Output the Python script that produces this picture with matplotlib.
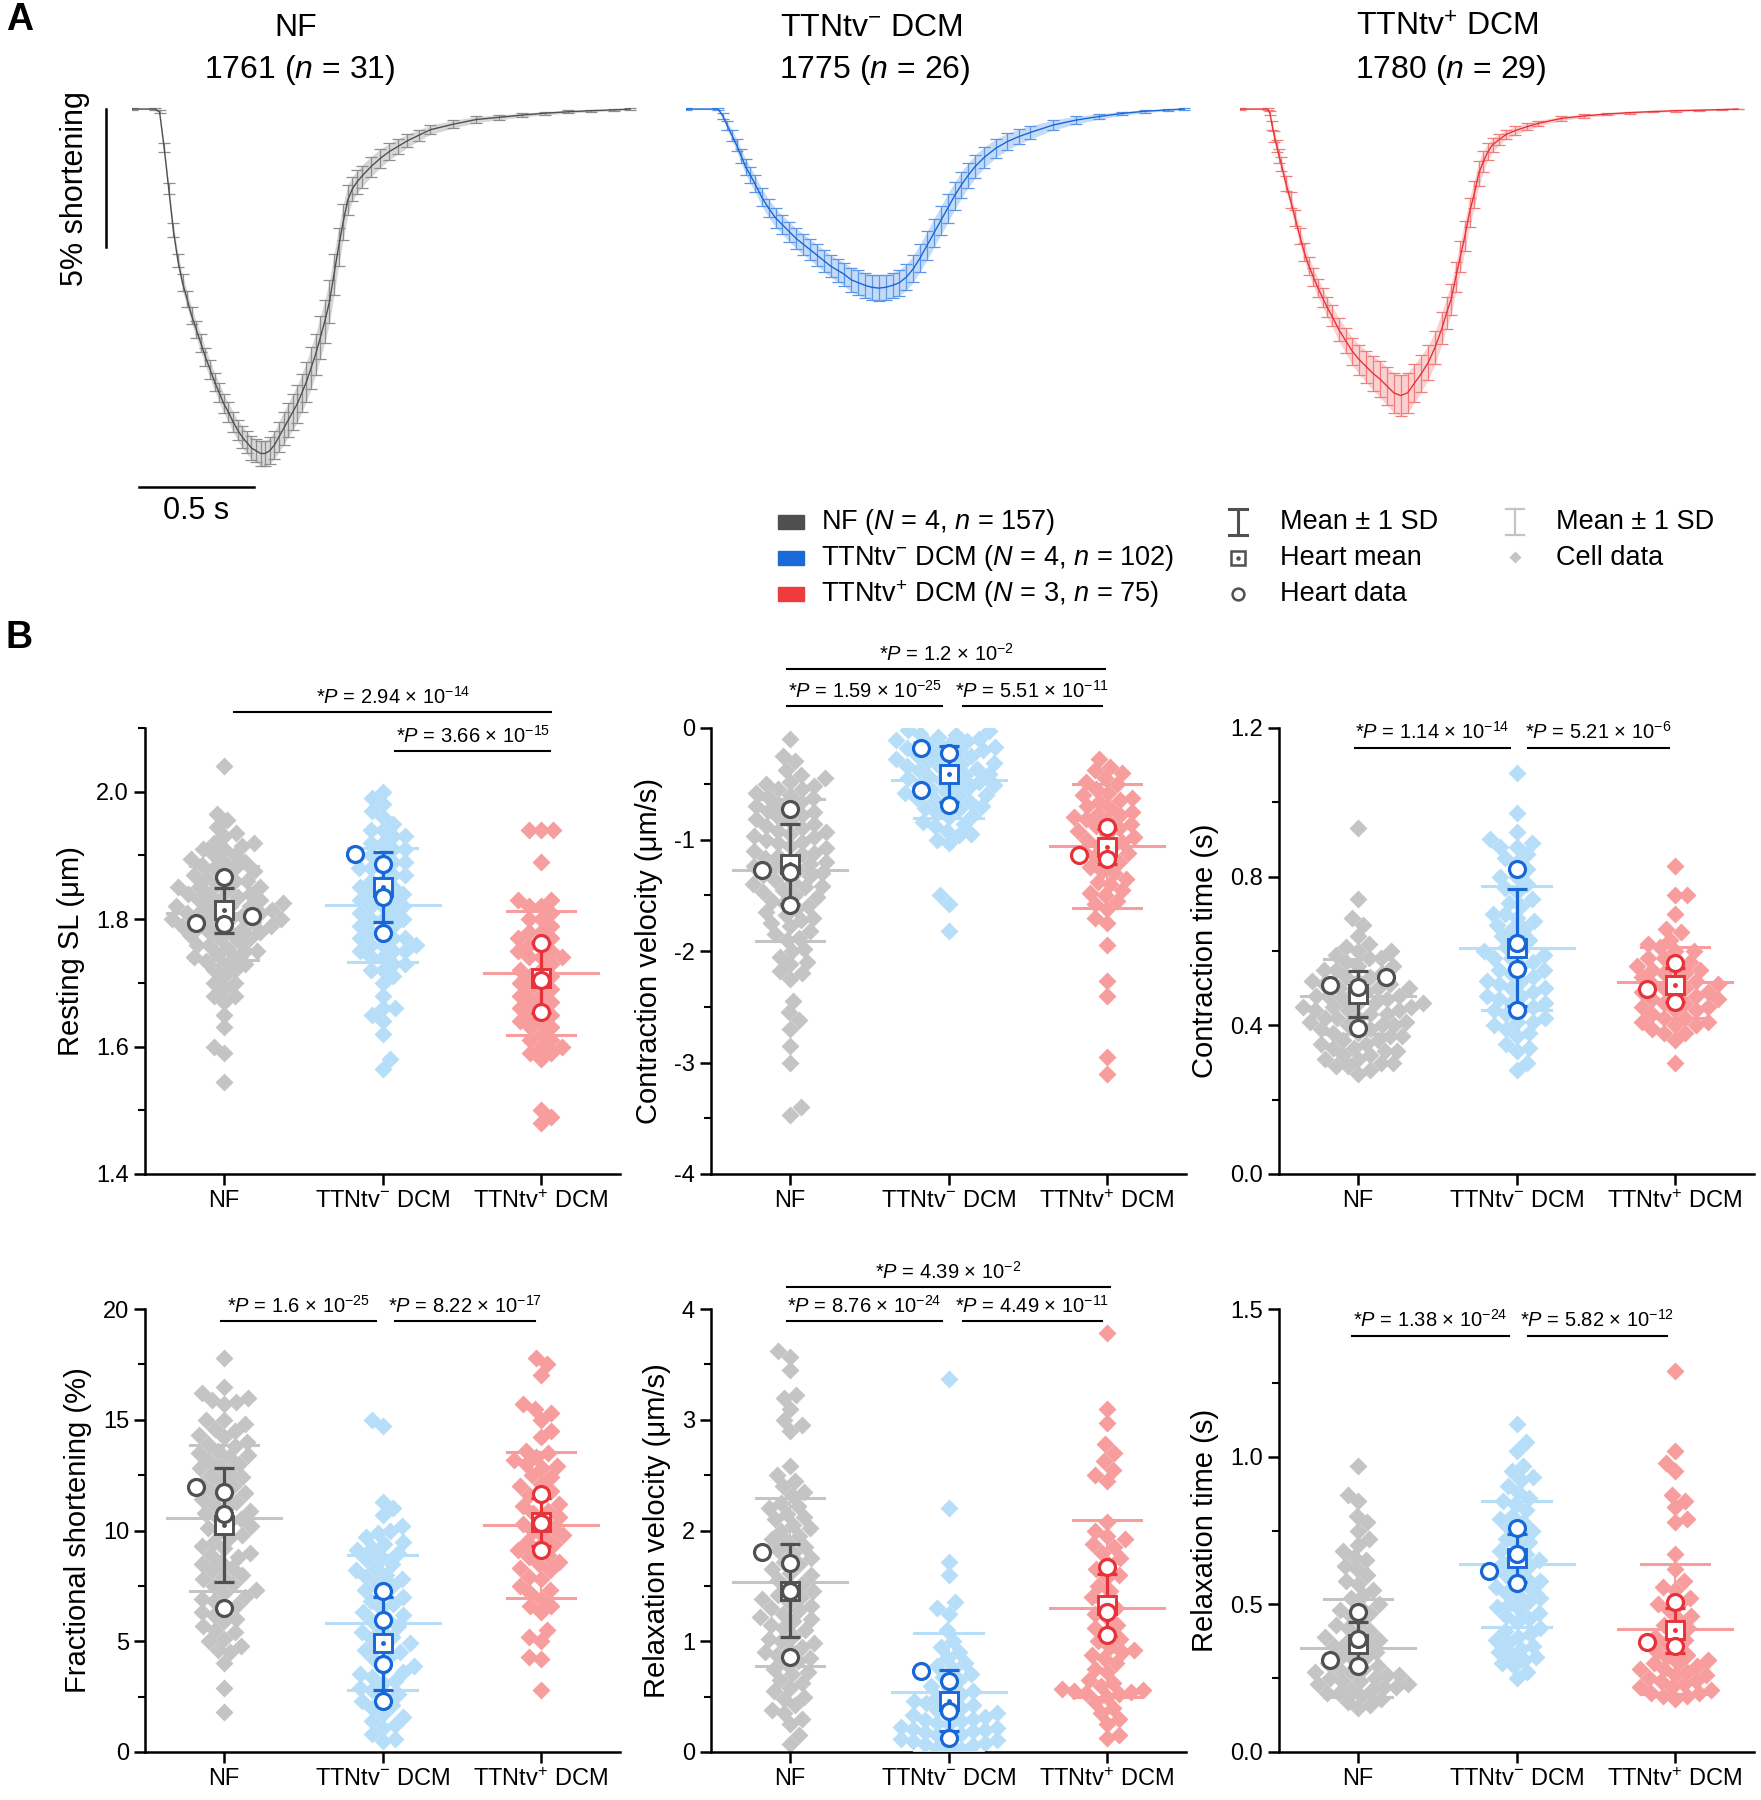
import numpy as np
import matplotlib
matplotlib.use('Agg')
import matplotlib.pyplot as plt
from matplotlib.ticker import MultipleLocator, FormatStrFormatter
from matplotlib.patches import Rectangle

plt.rcParams['font.family'] = ['Liberation Sans', 'DejaVu Sans']
plt.rcParams['mathtext.fontset'] = 'custom'
plt.rcParams['mathtext.rm'] = 'Liberation Sans'
plt.rcParams['mathtext.it'] = 'Liberation Sans:italic'
plt.rcParams['mathtext.bf'] = 'Liberation Sans:bold'

# ---------------- data: panel A traces (% shortening vs time, s)
t_nf = [0, 0.10, 0.12, 0.14, 0.16, 0.18, 0.20, 0.22, 0.24, 0.26, 0.28, 0.30, 0.32, 0.34, 0.36, 0.38,
        0.40, 0.42, 0.44, 0.46, 0.48, 0.50, 0.52, 0.54, 0.56, 0.58, 0.60, 0.62, 0.64, 0.66, 0.68, 0.70,
        0.72, 0.74, 0.76, 0.78, 0.80, 0.82, 0.84, 0.86, 0.88, 0.90, 0.92, 0.94, 0.96, 0.98, 1.00, 1.04,
        1.08, 1.12, 1.16, 1.20, 1.25, 1.30, 1.40, 1.50, 1.60, 1.70, 1.80, 1.90, 2.00, 2.10, 2.17]
m_nf = [0, 0, 0.1, 1.4, 2.9, 4.4, 5.5, 6.3, 6.9, 7.5, 8.0, 8.5, 9.0, 9.45, 9.9, 10.3,
        10.7, 11.0, 11.35, 11.65, 11.9, 12.1, 12.3, 12.4, 12.5, 12.5, 12.4, 12.2, 11.9, 11.6, 11.3, 11.0,
        10.7, 10.3, 9.9, 9.4, 8.9, 8.3, 7.7, 7.0, 6.0, 5.0, 4.1, 3.3, 2.9, 2.65, 2.45, 2.1,
        1.8, 1.55, 1.35, 1.15, 0.95, 0.75, 0.55, 0.38, 0.3, 0.22, 0.15, 0.1, 0.06, 0.03, 0.0]
sd_nf = [0.02, 0.02, 0.05, 0.15, 0.2, 0.25, 0.25, 0.3, 0.3, 0.3, 0.3, 0.32, 0.32, 0.33, 0.33, 0.35,
         0.35, 0.35, 0.37, 0.38, 0.4, 0.4, 0.42, 0.42, 0.45, 0.45, 0.48, 0.5, 0.55, 0.6, 0.62, 0.65,
         0.68, 0.7, 0.72, 0.75, 0.75, 0.78, 0.78, 0.78, 0.75, 0.7, 0.65, 0.55, 0.45, 0.42, 0.4, 0.37,
         0.34, 0.3, 0.27, 0.24, 0.2, 0.17, 0.14, 0.11, 0.09, 0.07, 0.06, 0.05, 0.04, 0.03, 0.02]

t_neg = [0, 0.14, 0.16, 0.18, 0.20, 0.22, 0.24, 0.26, 0.28, 0.30, 0.33, 0.36, 0.39, 0.42, 0.45, 0.48,
         0.51, 0.54, 0.57, 0.60, 0.63, 0.66, 0.69, 0.72, 0.75, 0.78, 0.81, 0.84, 0.87, 0.90, 0.93, 0.96,
         0.99, 1.02, 1.05, 1.08, 1.11, 1.14, 1.17, 1.20, 1.23, 1.26, 1.30, 1.35, 1.40, 1.45, 1.50, 1.60,
         1.70, 1.80, 1.90, 2.00, 2.10, 2.17]
m_neg = [0, 0, 0.25, 0.6, 0.95, 1.3, 1.7, 2.1, 2.4, 2.7, 3.2, 3.6, 3.95, 4.2, 4.45, 4.7,
         4.9, 5.1, 5.3, 5.5, 5.7, 5.85, 6.0, 6.2, 6.3, 6.4, 6.47, 6.5, 6.47, 6.4, 6.3, 6.1,
         5.8, 5.4, 4.95, 4.5, 4.05, 3.6, 3.15, 2.75, 2.4, 2.08, 1.75, 1.42, 1.18, 1.0, 0.85, 0.58,
         0.4, 0.27, 0.16, 0.08, 0.03, 0.0]
sd_neg = [0.02, 0.03, 0.1, 0.15, 0.2, 0.22, 0.25, 0.28, 0.3, 0.3, 0.32, 0.33, 0.35, 0.35, 0.36, 0.37,
          0.38, 0.38, 0.39, 0.4, 0.4, 0.42, 0.43, 0.44, 0.45, 0.46, 0.46, 0.46, 0.46, 0.46, 0.47, 0.48,
          0.49, 0.5, 0.52, 0.52, 0.52, 0.52, 0.5, 0.48, 0.45, 0.42, 0.38, 0.34, 0.3, 0.27, 0.24, 0.18,
          0.14, 0.1, 0.07, 0.05, 0.03, 0.02]

t_pos = [0, 0.12, 0.13, 0.14, 0.15, 0.16, 0.17, 0.18, 0.20, 0.22, 0.24, 0.26, 0.28, 0.30, 0.32, 0.34,
         0.36, 0.38, 0.40, 0.43, 0.46, 0.49, 0.52, 0.55, 0.58, 0.61, 0.64, 0.67, 0.70, 0.73, 0.76, 0.79,
         0.82, 0.85, 0.88, 0.90, 0.92, 0.94, 0.96, 0.98, 1.00, 1.02, 1.04, 1.06, 1.08, 1.10, 1.13, 1.16,
         1.20, 1.25, 1.30, 1.40, 1.50, 1.60, 1.70, 1.80, 1.90, 2.00, 2.10, 2.17]
m_pos = [0, 0, 0.15, 0.6, 1.0, 1.35, 1.7, 2.0, 2.7, 3.3, 3.95, 4.6, 5.2, 5.7, 6.1, 6.5,
         6.85, 7.2, 7.5, 8.0, 8.4, 8.8, 9.1, 9.35, 9.6, 9.8, 10.05, 10.3, 10.4, 10.3, 9.95, 9.6,
         9.2, 8.65, 7.95, 7.4, 6.9, 6.1, 5.35, 4.6, 3.75, 3.1, 2.35, 1.9, 1.55, 1.3, 1.1, 0.92,
         0.78, 0.64, 0.52, 0.34, 0.25, 0.18, 0.13, 0.09, 0.06, 0.04, 0.02, 0.0]
sd_pos = [0.02, 0.02, 0.08, 0.15, 0.2, 0.22, 0.25, 0.25, 0.28, 0.3, 0.3, 0.3, 0.32, 0.32, 0.33, 0.34,
          0.35, 0.36, 0.38, 0.42, 0.45, 0.5, 0.55, 0.58, 0.62, 0.66, 0.7, 0.72, 0.73, 0.72, 0.7, 0.66,
          0.62, 0.6, 0.58, 0.57, 0.56, 0.55, 0.55, 0.55, 0.53, 0.5, 0.45, 0.38, 0.3, 0.25, 0.2, 0.17,
          0.15, 0.13, 0.1, 0.08, 0.06, 0.05, 0.04, 0.03, 0.03, 0.02, 0.02, 0.01]

trace_titles = ['NF', 'TTNtv$^{-}$ DCM', 'TTNtv$^{+}$ DCM']
trace_ids = ['1761', '1775', '1780']
trace_n = [31, 26, 29]

# ---------------- data: panel B
groups = ['NF', 'TTNtv$^{-}$ DCM', 'TTNtv$^{+}$ DCM']
legend_N = [4, 4, 3]
legend_n = [157, 102, 75]

# resting sarcomere length (um)
rsl_nf = [2.04, 1.965, 1.955, 1.945, 1.935, 1.93, 1.92, 1.915, 1.91, 1.90, 1.895, 1.89, 1.885, 1.88, 1.875,
          1.87, 1.865, 1.86, 1.855, 1.85, 1.845, 1.84, 1.835, 1.83, 1.83, 1.825, 1.82, 1.82, 1.815, 1.81,
          1.81, 1.805, 1.80, 1.80, 1.795, 1.79, 1.79, 1.785, 1.78, 1.775, 1.77, 1.765, 1.76, 1.755, 1.75,
          1.745, 1.74, 1.735, 1.73, 1.72, 1.71, 1.70, 1.69, 1.68, 1.67, 1.65, 1.63, 1.60, 1.59, 1.545,
          1.92, 1.91, 1.90, 1.89, 1.88, 1.87, 1.86, 1.85, 1.85, 1.84, 1.84, 1.83, 1.82, 1.82, 1.81,
          1.81, 1.80, 1.80, 1.79, 1.79, 1.78, 1.78, 1.77, 1.76, 1.75, 1.74, 1.73, 1.72, 1.70, 1.68]
rsl_neg = [2.00, 1.99, 1.98, 1.97, 1.96, 1.95, 1.94, 1.93, 1.93, 1.92, 1.91, 1.90, 1.90, 1.89, 1.88, 1.88,
           1.87, 1.86, 1.85, 1.84, 1.84, 1.83, 1.82, 1.82, 1.81, 1.80, 1.80, 1.79, 1.78, 1.77, 1.77, 1.76,
           1.75, 1.75, 1.74, 1.73, 1.72, 1.70, 1.68, 1.66, 1.65, 1.64, 1.62, 1.58, 1.565,
           1.94, 1.92, 1.91, 1.90, 1.89, 1.88, 1.87, 1.86, 1.85, 1.84, 1.83, 1.82, 1.81, 1.80, 1.79,
           1.78, 1.77, 1.76, 1.76, 1.75, 1.74, 1.73, 1.72, 1.71, 1.66]
rsl_pos = [1.94, 1.94, 1.94, 1.89, 1.83, 1.83, 1.82, 1.81, 1.80, 1.79, 1.78, 1.77, 1.76, 1.75, 1.74, 1.74,
           1.73, 1.72, 1.71, 1.70, 1.69, 1.68, 1.67, 1.66, 1.66, 1.65, 1.64, 1.63, 1.62, 1.61, 1.60, 1.59,
           1.59, 1.58, 1.50, 1.49, 1.48,
           1.82, 1.80, 1.78, 1.77, 1.76, 1.75, 1.74, 1.72, 1.71, 1.70, 1.69, 1.68, 1.67, 1.65, 1.64,
           1.63, 1.61, 1.60]
rsl_cell_mean = [1.810, 1.822, 1.715]
rsl_cell_sd = [0.074, 0.089, 0.097]
rsl_heart_mean = [1.814, 1.851, 1.707]
rsl_heart_sd = [0.035, 0.055, 0.055]
rsl_hearts = [[1.794, 1.793, 1.805, 1.866], [1.887, 1.903, 1.834, 1.779], [1.763, 1.704, 1.654]]

# contraction velocity (um/s)
cv_nf = [-0.10, -0.25, -0.30, -0.38, -0.42, -0.48, -0.50, -0.52, -0.55, -0.58, -0.60, -0.63, -0.66, -0.70,
         -0.72, -0.75, -0.78, -0.80, -0.83, -0.86, -0.90, -0.92, -0.95, -0.98, -1.00, -1.03, -1.06, -1.10,
         -1.12, -1.15, -1.18, -1.20, -1.24, -1.27, -1.30, -1.33, -1.36, -1.40, -1.43, -1.47, -1.52, -1.57,
         -1.62, -1.68, -1.72, -1.78, -1.85, -1.90, -1.98, -2.05, -2.12, -2.18, -2.25, -2.45, -2.55, -2.62,
         -2.70, -2.85, -3.00, -3.40, -3.47,
         -0.45, -0.55, -0.62, -0.68, -0.74, -0.82, -0.88, -0.93, -0.97, -1.02, -1.08, -1.13, -1.17, -1.22,
         -1.25, -1.29, -1.32, -1.38, -1.42, -1.45, -1.50, -1.55, -1.60, -1.65, -1.70, -1.75, -1.82, -1.88,
         -2.00, -2.10, -2.20]
cv_neg = [-0.02, -0.03, -0.05, -0.08, -0.10, -0.12, -0.15, -0.17, -0.20, -0.22, -0.25, -0.28, -0.30, -0.32,
          -0.35, -0.38, -0.40, -0.42, -0.45, -0.48, -0.50, -0.52, -0.55, -0.58, -0.60, -0.63, -0.66, -0.70,
          -0.73, -0.76, -0.80, -0.84, -0.88, -0.92, -0.96, -1.00, -1.50, -1.58, -1.82,
          -0.06, -0.11, -0.14, -0.18, -0.21, -0.24, -0.27, -0.31, -0.34, -0.37, -0.41, -0.44, -0.47, -0.51,
          -0.54, -0.57, -0.61, -0.65, -0.68, -0.72, -0.78, -0.86, -0.95, -1.03]
cv_pos = [-0.28, -0.35, -0.40, -0.45, -0.50, -0.55, -0.60, -0.63, -0.66, -0.70, -0.75, -0.78, -0.80, -0.83,
          -0.86, -0.90, -0.95, -1.00, -1.05, -1.10, -1.15, -1.20, -1.25, -1.30, -1.35, -1.40, -1.45, -1.50,
          -1.55, -1.62, -1.70, -1.75, -1.95, -2.27, -2.40, -2.95, -3.10,
          -0.38, -0.48, -0.58, -0.65, -0.72, -0.77, -0.82, -0.88, -0.92, -0.98, -1.02, -1.08, -1.12, -1.18,
          -1.28, -1.38, -1.48, -1.58]
cv_cell_mean = [-1.273, -0.47, -1.055]
cv_cell_sd = [0.638, 0.34, 0.556]
cv_heart_mean = [-1.22, -0.413, -1.066]
cv_heart_sd = [0.36, 0.25, 0.157]
cv_hearts = [[-0.727, -1.29, -1.273, -1.586], [-0.178, -0.228, -0.553, -0.692], [-1.141, -1.176, -0.891]]

# contraction time (s)
ct_nf = [0.93, 0.74, 0.69, 0.67, 0.64, 0.62, 0.61, 0.60, 0.59, 0.58, 0.57, 0.56, 0.55, 0.54, 0.53, 0.52,
         0.51, 0.50, 0.50, 0.49, 0.48, 0.48, 0.47, 0.46, 0.46, 0.45, 0.44, 0.44, 0.43, 0.42, 0.42, 0.41,
         0.40, 0.40, 0.39, 0.38, 0.37, 0.36, 0.35, 0.34, 0.33, 0.32, 0.31, 0.30, 0.29, 0.28, 0.27,
         0.60, 0.58, 0.56, 0.55, 0.53, 0.52, 0.51, 0.50, 0.49, 0.48, 0.47, 0.46, 0.45, 0.45, 0.44,
         0.43, 0.42, 0.41, 0.40, 0.39, 0.38, 0.37, 0.36, 0.35, 0.34, 0.33, 0.32, 0.31, 0.30, 0.29]
ct_neg = [1.08, 0.97, 0.92, 0.90, 0.89, 0.88, 0.86, 0.84, 0.82, 0.80, 0.78, 0.76, 0.74, 0.72, 0.70, 0.69,
          0.67, 0.66, 0.64, 0.63, 0.61, 0.60, 0.59, 0.58, 0.56, 0.55, 0.54, 0.52, 0.51, 0.50, 0.49, 0.48,
          0.47, 0.46, 0.45, 0.44, 0.42, 0.41, 0.40, 0.38, 0.35, 0.33, 0.30, 0.28,
          0.88, 0.85, 0.80, 0.77, 0.73, 0.70, 0.68, 0.66, 0.63, 0.60, 0.58, 0.57, 0.55, 0.53, 0.52,
          0.50, 0.48, 0.46, 0.44, 0.43, 0.41, 0.39, 0.37, 0.34]
ct_pos = [0.83, 0.75, 0.75, 0.70, 0.66, 0.65, 0.63, 0.61, 0.60, 0.58, 0.57, 0.56, 0.55, 0.54, 0.53, 0.52,
          0.51, 0.50, 0.50, 0.49, 0.48, 0.47, 0.46, 0.45, 0.44, 0.43, 0.42, 0.41, 0.40, 0.39, 0.38, 0.36, 0.30,
          0.62, 0.60, 0.58, 0.56, 0.55, 0.54, 0.52, 0.51, 0.49, 0.48, 0.47, 0.46, 0.45, 0.44, 0.42,
          0.41, 0.40, 0.38]
ct_cell_mean = [0.478, 0.607, 0.516]
ct_cell_sd = [0.10, 0.167, 0.096]
ct_heart_mean = [0.484, 0.609, 0.509]
ct_heart_sd = [0.062, 0.157, 0.045]
ct_hearts = [[0.530, 0.504, 0.509, 0.393], [0.820, 0.622, 0.551, 0.441], [0.497, 0.567, 0.464]]

# fractional shortening (%)
fs_nf = [17.8, 16.5, 16.2, 16.0, 15.8, 15.7, 15.0, 14.8, 14.5, 14.3, 14.0, 13.8, 13.6, 13.4, 13.2, 13.0,
         12.8, 12.6, 12.4, 12.2, 12.0, 11.8, 11.6, 11.4, 11.2, 11.0, 10.8, 10.6, 10.4, 10.2, 10.0, 9.8,
         9.5, 9.2, 9.0, 8.8, 8.5, 8.2, 8.0, 7.8, 7.5, 7.2, 7.0, 6.8, 6.5, 6.2, 6.0, 5.7, 5.4, 5.0, 4.8,
         4.5, 4.0, 2.9, 1.8,
         15.9, 15.0, 14.6, 14.2, 13.9, 13.5, 13.3, 12.9, 12.5, 12.1, 11.7, 11.3, 10.9, 10.5, 10.1, 9.7,
         9.3, 8.9, 8.6, 8.3, 7.9, 7.6, 7.3, 6.9, 6.6, 6.3, 5.9, 5.5, 5.1, 4.6]
fs_neg = [15.0, 14.7, 11.3, 11.0, 10.7, 10.2, 9.9, 9.7, 9.4, 9.2, 9.0, 8.8, 8.5, 8.2, 8.0, 7.8, 7.6, 7.3,
          7.0, 6.8, 6.5, 6.2, 6.0, 5.7, 5.4, 5.1, 4.8, 4.5, 4.2, 3.9, 3.6, 3.4, 3.1, 2.8, 2.6, 2.3, 2.0,
          1.7, 1.4, 1.1, 0.8, 0.6, 0.5,
          10.0, 9.5, 9.1, 8.7, 8.3, 7.9, 7.5, 7.1, 6.7, 6.3, 5.9, 5.5, 5.2, 4.9, 4.6, 4.3, 3.8, 3.5,
          3.2, 2.9, 2.5, 2.1, 1.6, 1.2]
fs_pos = [17.8, 17.5, 17.0, 15.7, 15.5, 15.3, 15.0, 14.5, 14.2, 13.6, 13.3, 13.0, 12.8, 12.4, 12.1, 11.8,
          11.5, 11.2, 10.9, 10.6, 10.3, 10.0, 9.7, 9.4, 9.1, 8.8, 8.5, 8.2, 7.9, 7.5, 7.2, 6.9, 6.6, 6.3,
          5.5, 5.2, 5.0, 4.3, 4.2, 2.8,
          13.5, 13.2, 12.9, 12.5, 12.0, 11.6, 11.1, 10.8, 10.4, 10.1, 9.8, 9.5, 9.2, 8.9, 8.6, 8.3, 7.8,
          7.3, 6.6]
fs_cell_mean = [10.57, 5.83, 10.25]
fs_cell_sd = [3.3, 3.05, 3.3]
fs_heart_mean = [10.26, 4.90, 10.38]
fs_heart_sd = [2.57, 2.1, 1.1]
fs_hearts = [[10.73, 11.96, 11.73, 6.51], [7.27, 5.98, 3.98, 2.32], [11.63, 10.33, 9.12]]

# relaxation velocity (um/s)
rv_nf = [3.62, 3.57, 3.45, 3.22, 3.20, 3.10, 3.00, 2.95, 2.90, 2.58, 2.50, 2.45, 2.40, 2.32, 2.25, 2.20,
         2.15, 2.10, 2.05, 2.00, 1.95, 1.90, 1.85, 1.80, 1.75, 1.70, 1.65, 1.60, 1.55, 1.50, 1.45, 1.40,
         1.35, 1.30, 1.25, 1.20, 1.15, 1.10, 1.05, 1.00, 0.95, 0.90, 0.85, 0.80, 0.75, 0.70, 0.62, 0.55,
         0.48, 0.42, 0.35, 0.25, 0.15, 0.07,
         2.35, 2.22, 2.12, 2.02, 1.92, 1.82, 1.72, 1.62, 1.52, 1.42, 1.38, 1.32, 1.28, 1.22, 1.18, 1.12,
         1.02, 0.98, 0.92, 0.88, 0.82, 0.72, 0.65, 0.58, 0.50, 0.38, 0.30]
rv_neg = [3.37, 2.20, 1.72, 1.60, 1.35, 1.30, 1.25, 1.10, 1.00, 0.90, 0.85, 0.80, 0.75, 0.70, 0.65, 0.60,
          0.55, 0.50, 0.47, 0.44, 0.40, 0.38, 0.35, 0.32, 0.30, 0.28, 0.25, 0.22, 0.20, 0.18, 0.16, 0.14,
          0.12, 0.10, 0.08, 0.06, 0.04, 0.02,
          0.95, 0.78, 0.68, 0.58, 0.52, 0.46, 0.42, 0.36, 0.33, 0.29, 0.26, 0.23, 0.21, 0.19, 0.15, 0.11,
          0.07, 0.03]
rv_pos = [3.78, 3.10, 2.97, 2.78, 2.70, 2.63, 2.55, 2.50, 2.45, 2.08, 2.00, 1.92, 1.88, 1.85, 1.75, 1.65,
          1.58, 1.50, 1.40, 1.30, 1.22, 1.15, 1.08, 1.00, 0.95, 0.90, 0.85, 0.80, 0.72, 0.65, 0.60, 0.57,
          0.55, 0.53, 0.50, 0.45, 0.35, 0.25, 0.15, 0.13,
          1.95, 1.80, 1.70, 1.60, 1.45, 1.35, 1.25, 1.12, 1.02, 0.92, 0.88, 0.75, 0.62, 0.56, 0.54, 0.52,
          0.40, 0.30]
rv_cell_mean = [1.534, 0.538, 1.296]
rv_cell_sd = [0.755, 0.538, 0.797]
rv_heart_mean = [1.457, 0.464, 1.33]
rv_heart_sd = [0.418, 0.275, 0.28]
rv_hearts = [[1.705, 1.808, 1.453, 0.857], [0.638, 0.732, 0.367, 0.126], [1.673, 1.26, 1.054]]

# relaxation time (s)
rt_nf = [0.97, 0.87, 0.85, 0.80, 0.78, 0.75, 0.72, 0.70, 0.68, 0.65, 0.62, 0.60, 0.58, 0.55, 0.52, 0.50,
         0.48, 0.46, 0.44, 0.42, 0.40, 0.38, 0.37, 0.36, 0.35, 0.34, 0.33, 0.32, 0.31, 0.30, 0.29, 0.28,
         0.28, 0.27, 0.27, 0.26, 0.26, 0.25, 0.25, 0.24, 0.24, 0.23, 0.23, 0.22, 0.22, 0.21, 0.21, 0.20,
         0.20, 0.19, 0.18, 0.17, 0.16, 0.15,
         0.66, 0.63, 0.57, 0.53, 0.49, 0.47, 0.43, 0.41, 0.39, 0.37]
rt_neg = [1.11, 1.05, 1.02, 0.97, 0.95, 0.93, 0.90, 0.88, 0.86, 0.84, 0.82, 0.80, 0.78, 0.76, 0.74, 0.72,
          0.70, 0.68, 0.66, 0.65, 0.64, 0.62, 0.60, 0.58, 0.56, 0.54, 0.52, 0.50, 0.48, 0.46, 0.44, 0.42,
          0.40, 0.38, 0.36, 0.35, 0.33, 0.31, 0.29, 0.27, 0.25,
          0.92, 0.85, 0.79, 0.75, 0.71, 0.67, 0.63, 0.61, 0.59, 0.57, 0.55, 0.53, 0.51, 0.49, 0.47, 0.45,
          0.41, 0.39, 0.37, 0.34, 0.32, 0.30]
rt_pos = [1.29, 1.02, 0.98, 0.95, 0.87, 0.85, 0.83, 0.79, 0.78, 0.67, 0.62, 0.58, 0.55, 0.52, 0.50, 0.48,
          0.45, 0.43, 0.41, 0.39, 0.37, 0.35, 0.33, 0.31, 0.30, 0.29, 0.28, 0.27, 0.26, 0.25, 0.24, 0.23,
          0.22, 0.21, 0.20, 0.19, 0.18,
          0.56, 0.50, 0.46, 0.42, 0.38, 0.34, 0.32, 0.30, 0.28, 0.26, 0.24, 0.22, 0.20, 0.19]
rt_cell_mean = [0.352, 0.636, 0.418]
rt_cell_sd = [0.167, 0.213, 0.22]
rt_heart_mean = [0.364, 0.657, 0.412]
rt_heart_sd = [0.077, 0.08, 0.076]
rt_hearts = [[0.473, 0.383, 0.313, 0.292], [0.759, 0.671, 0.612, 0.572], [0.508, 0.371, 0.359]]

# P values: (group a, group b, mantissa, exponent)
rsl_p = [(0, 2, '2.94', '-14'), (1, 2, '3.66', '-15')]
cv_p = [(0, 2, '1.2', '-2'), (0, 1, '1.59', '-25'), (1, 2, '5.51', '-11')]
ct_p = [(0, 1, '1.14', '-14'), (1, 2, '5.21', '-6')]
fs_p = [(0, 1, '1.6', '-25'), (1, 2, '8.22', '-17')]
rv_p = [(0, 2, '4.39', '-2'), (0, 1, '8.76', '-24'), (1, 2, '4.49', '-11')]
rt_p = [(0, 1, '1.38', '-24'), (1, 2, '5.82', '-12')]

# ---------------- style
dark = ['#505050', '#1767d8', '#e8323a']
mid = ['#8e8e8e', '#5a97e8', '#f27c7c']
light = ['#c4c4c4', '#b6def9', '#f79d9d']
legend_col = ['#4f4f4f', '#1a6ad9', '#ee3c3c']

W, H = 1761, 1800
fig = plt.figure(figsize=(W / 100, H / 100), dpi=100)


def box(x0, y0, x1, y1):
    return [x0 / W, 1 - y1 / H, (x1 - x0) / W, (y1 - y0) / H]


ov = fig.add_axes([0, 0, 1, 1])
ov.set_xlim(0, W)
ov.set_ylim(H, 0)
ov.axis('off')

ov.text(6, 2, 'A', fontsize=27, fontweight='bold', va='top', ha='left')
ov.text(6, 620, 'B', fontsize=27, fontweight='bold', va='top', ha='left')

# ---------------- panel A
traces = [(t_nf, m_nf, sd_nf), (t_neg, m_neg, sd_neg), (t_pos, m_pos, sd_pos)]
tr_left = [132, 686, 1240]
tr_title_x = [296, 871, 1447]
for k, (t, m, s) in enumerate(traces):
    ax = fig.add_axes(box(tr_left[k], 92.5, tr_left[k] + 505, 481))
    m_arr, s_arr = np.array(m), np.array(s)
    ax.fill_between(t, m_arr - s_arr, m_arr + s_arr, color=mid[k], alpha=0.35, lw=0)
    ax.errorbar(t, m, yerr=s, color=dark[k], lw=1.0, ecolor=mid[k], elinewidth=0.9,
                capsize=4.5, capthick=0.9)
    ax.set_xlim(0, 2.2)
    ax.set_ylim(13.5, -0.6)
    ax.axis('off')
    ov.text(tr_title_x[k], 28, trace_titles[k], fontsize=23, ha='center', va='center')
    ov.text(tr_title_x[k] + 4, 70, trace_ids[k] + r' ($\mathit{n}$ = %d)' % trace_n[k],
            fontsize=23, ha='center', va='center')
    if k == 0:
        ax.plot([-0.115, -0.115], [0, 5], color='black', lw=1.8, clip_on=False)
        ax.plot([0.03, 0.53], [13.7, 13.7], color='black', lw=1.8, clip_on=False)
        ax.text(-0.25, 2.9, '5% shortening', rotation=90, fontsize=22, ha='center', va='center')
        ax.text(0.28, 14.6, '0.5 s', fontsize=22, ha='center', va='center')

# legend block
rows_y = [522, 558, 594]
for i in range(3):
    ov.add_patch(Rectangle((778, rows_y[i] - 7), 26, 14, color=legend_col[i]))
    ov.text(821, rows_y[i], groups[i] + r' ($\mathit{N}$ = %d, $\mathit{n}$ = %d)' % (legend_N[i], legend_n[i]),
            fontsize=19.5, va='center', ha='left')
ov.plot([1238, 1238], [509, 535], color=dark[0], lw=2.2)
ov.plot([1229, 1247], [509, 509], color=dark[0], lw=2.2)
ov.plot([1229, 1247], [535, 535], color=dark[0], lw=2.2)
ov.plot(1238, 558, 's', ms=10, mfc='white', mec=dark[0], mew=1.8)
ov.plot(1238, 558, 'o', ms=2.2, color=dark[0])
ov.plot(1238, 594, 'o', ms=8.5, mfc='white', mec=dark[0], mew=1.8)
ov.text(1280, 522, 'Mean ± 1 SD', fontsize=19.5, va='center')
ov.text(1280, 558, 'Heart mean', fontsize=19.5, va='center')
ov.text(1280, 594, 'Heart data', fontsize=19.5, va='center')
ov.plot([1515, 1515], [509, 535], color=light[0], lw=1.6)
ov.plot([1506, 1524], [509, 509], color=light[0], lw=1.6)
ov.plot([1506, 1524], [535, 535], color=light[0], lw=1.6)
ov.plot(1515, 557, 'D', ms=6, color=light[0], mec='none')
ov.text(1556, 522, 'Mean ± 1 SD', fontsize=19.5, va='center')
ov.text(1556, 558, 'Cell data', fontsize=19.5, va='center')

# ---------------- panel B
AX_W = 475
PX_X = AX_W / 3.0


def swarm_px(vals, ppu_y, d, step, alternate=True):
    vals = np.asarray(vals, float)
    order = np.argsort(vals, kind='stable')
    xs, ys = [], []
    off = np.zeros(len(vals))
    for n, i in enumerate(order):
        y = vals[i] * ppu_y
        k = 0
        hit = None
        while hit is None:
            if k == 0:
                cands = [0.0]
            elif alternate and n % 2 == 1:
                cands = [k * step, -k * step]
            else:
                cands = [-k * step, k * step]
            for c in cands:
                if all((c - a) ** 2 + (y - b) ** 2 >= d * d for a, b in zip(xs, ys)):
                    hit = c
                    break
            k += 1
        off[i] = hit
        xs.append(hit)
        ys.append(y)
    return off


def ptext(mant, expo):
    return r'*$\mathit{P}$ = ' + mant + ' × 10$^{' + expo + '}$'


panels = [
    dict(cells=[rsl_nf, rsl_neg, rsl_pos], cm=rsl_cell_mean, cs=rsl_cell_sd, hm=rsl_heart_mean,
         hs=rsl_heart_sd, hv=rsl_hearts, ylim=(1.4, 2.1), major=0.2, minor=0.1, fmt='%.1f',
         label='Resting SL (μm)', p=rsl_p, lev=[1.036, 0.948],
         xo=[(0.065, 0.065), (0.08, 0.06)], pos=(145, 728, 1174)),
    dict(cells=[cv_nf, cv_neg, cv_pos], cm=cv_cell_mean, cs=cv_cell_sd, hm=cv_heart_mean,
         hs=cv_heart_sd, hv=cv_hearts, ylim=(-4, 0), major=1, minor=0.5, fmt='%d',
         label='Contraction velocity (μm/s)', p=cv_p, lev=[1.132, 1.049, 1.049],
         xo=[(-0.02, -0.01), (-0.02, -0.04), (0.09, -0.03)], pos=(711, 728, 1174)),
    dict(cells=[ct_nf, ct_neg, ct_pos], cm=ct_cell_mean, cs=ct_cell_sd, hm=ct_heart_mean,
         hs=ct_heart_sd, hv=ct_hearts, ylim=(0, 1.2), major=0.4, minor=0.2, fmt='%.1f',
         label='Contraction time (s)', p=ct_p, lev=[0.956, 0.956],
         xo=[(-0.02, -0.04), (0.07, -0.04)], pos=(1279, 728, 1174)),
    dict(cells=[fs_nf, fs_neg, fs_pos], cm=fs_cell_mean, cs=fs_cell_sd, hm=fs_heart_mean,
         hs=fs_heart_sd, hv=fs_hearts, ylim=(0, 20), major=5, minor=2.5, fmt='%d',
         label='Fractional shortening (%)', p=fs_p, lev=[0.972, 0.972],
         xo=[(-0.02, -0.04), (0.08, -0.04)], pos=(145, 1309, 1752)),
    dict(cells=[rv_nf, rv_neg, rv_pos], cm=rv_cell_mean, cs=rv_cell_sd, hm=rv_heart_mean,
         hs=rv_heart_sd, hv=rv_hearts, ylim=(0, 4), major=1, minor=0.5, fmt='%d',
         label='Relaxation velocity (μm/s)', p=rv_p, lev=[1.049, 0.972, 0.972],
         xo=[(-0.02, 0.02), (-0.02, -0.04), (0.09, -0.03)], pos=(711, 1309, 1752)),
    dict(cells=[rt_nf, rt_neg, rt_pos], cm=rt_cell_mean, cs=rt_cell_sd, hm=rt_heart_mean,
         hs=rt_heart_sd, hv=rt_hearts, ylim=(0, 1.5), major=0.5, minor=0.25, fmt='%.1f',
         label='Relaxation time (s)', p=rt_p, lev=[0.940, 0.940],
         xo=[(-0.04, -0.05), (0.07, -0.05)], pos=(1279, 1309, 1752)),
]

for P in panels:
    x0, y0, y1 = P['pos']
    ax = fig.add_axes(box(x0, y0, x0 + AX_W, y1))
    ppu_y = (y1 - y0) / (P['ylim'][1] - P['ylim'][0])
    for g in range(3):
        xc = g + 1
        off = swarm_px(P['cells'][g], ppu_y, 12, 1.5) / PX_X
        ax.plot(xc + off, P['cells'][g], 'D', ms=9, color=light[g], mec='none', zorder=2)
        cm, cs = P['cm'][g], P['cs'][g]
        ax.plot([xc - 0.36, xc + 0.36], [cm, cm], color=light[g], lw=2.2, zorder=3)
        ax.plot([xc - 0.215, xc + 0.215], [cm + cs, cm + cs], color=light[g], lw=2.2, zorder=3)
        ax.plot([xc - 0.215, xc + 0.215], [cm - cs, cm - cs], color=light[g], lw=2.2, zorder=3)
        ax.plot([xc, xc], [cm - cs, cm + cs], color=light[g], lw=1.4, zorder=3)
        ax.errorbar(xc, P['hm'][g], yerr=P['hs'][g], fmt='none', ecolor=dark[g], elinewidth=2.3,
                    capsize=7, capthick=2.3, zorder=4)
        ax.plot(xc, P['hm'][g], 's', ms=13, mfc='white', mec=dark[g], mew=2.1, zorder=5)
        ax.plot(xc, P['hm'][g], 'o', ms=2.5, color=dark[g], zorder=6)
        hoff = swarm_px(P['hv'][g], ppu_y, 22, 28, alternate=False) / PX_X
        ax.plot(xc + hoff, P['hv'][g], 'o', ms=11.5, mfc='white', mec=dark[g], mew=2.3, zorder=7)
    ax.set_xlim(0.5, 3.5)
    ax.set_ylim(*P['ylim'])
    ax.set_xticks([1, 2, 3])
    ax.set_xticklabels(groups)
    ax.yaxis.set_major_locator(MultipleLocator(P['major']))
    ax.yaxis.set_minor_locator(MultipleLocator(P['minor']))
    ax.yaxis.set_major_formatter(FormatStrFormatter(P['fmt']))
    for sp in ('top', 'right'):
        ax.spines[sp].set_visible(False)
    for sp in ('left', 'bottom'):
        ax.spines[sp].set_linewidth(1.8)
    ax.tick_params(which='major', direction='out', length=8, width=1.8, labelsize=17)
    ax.tick_params(which='minor', direction='out', length=5, width=1.5)
    ax.set_ylabel(P['label'], fontsize=21, labelpad=8)
    tr = ax.get_xaxis_transform()
    for (a, b, mant, expo), lv, (oa, ob) in zip(P['p'], P['lev'], P['xo']):
        xa, xb = a + 1 + oa, b + 1 + ob
        ax.plot([xa, xb], [lv, lv], color='black', lw=1.5, transform=tr, clip_on=False)
        ax.text((xa + xb) / 2, lv + 0.01, ptext(mant, expo), transform=tr, ha='center',
                va='bottom', fontsize=14.5)

fig.savefig('out.png', dpi=100)
